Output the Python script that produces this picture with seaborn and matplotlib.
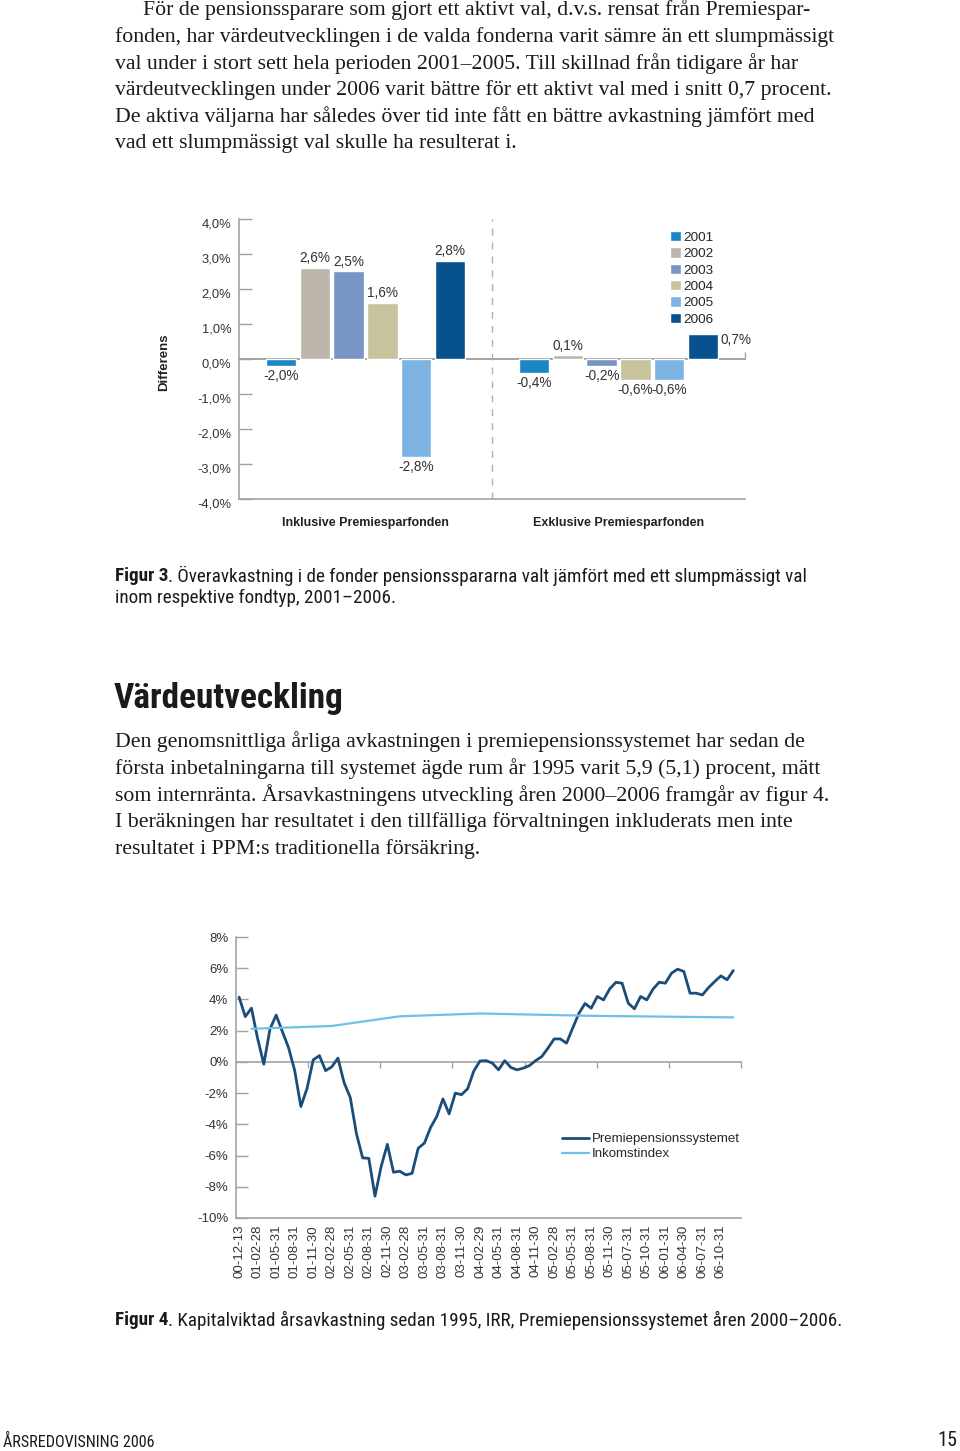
import numpy as np
import pandas as pd
import seaborn as sns
import matplotlib.pyplot as plt
from matplotlib import font_manager as fm
from matplotlib.transforms import ScaledTranslation

W, H = 960, 1451

# figur 3 data
years = ['2001', '2002', '2003', '2004', '2005', '2006']
groups = ['Inklusive Premiesparfonden', 'Exklusive Premiesparfonden']
inkl_values = [-0.2, 2.6, 2.5, 1.6, -2.8, 2.8]
exkl_values = [-0.4, 0.1, -0.2, -0.6, -0.6, 0.7]
inkl_labels = ['-2,0%', '2,6%', '2,5%', '1,6%', '-2,8%', '2,8%']
exkl_labels = ['-0,4%', '0,1%', '-0,2%', '-0,6%', '-0,6%', '0,7%']
bar_colors = ['#1a86c8', '#bdb6ab', '#7895c3', '#c7c39c', '#7db3e2', '#07518f']

# figur 4 data (monthly, 81 points)
date_labels = ['00-12-13', '01-02-28', '01-05-31', '01-08-31', '01-11-30', '02-02-28',
               '02-05-31', '02-08-31', '02-11-30', '03-02-28', '03-05-31', '03-08-31',
               '03-11-30', '04-02-29', '04-05-31', '04-08-31', '04-11-30', '05-02-28',
               '05-05-31', '05-08-31', '05-11-30', '05-07-31', '05-10-31', '06-01-31',
               '06-04-30', '06-07-31', '06-10-31']
pp_values = [4.15, 2.9, 3.44, 1.5, -0.15, 2.1, 3.0, 1.95, 0.92, -0.55,
             -2.86, -1.7, 0.13, 0.4, -0.56, -0.32, 0.24, -1.33, -2.29, -4.6,
             -6.15, -6.18, -8.6, -6.7, -5.28, -7.07, -7.0, -7.24, -7.14, -5.53,
             -5.2, -4.2, -3.5, -2.37, -3.33, -2.0, -2.1, -1.72, -0.58, 0.06,
             0.08, -0.08, -0.51, 0.08, -0.36, -0.51, -0.4, -0.24, 0.08, 0.34,
             0.88, 1.47, 1.47, 1.2, 2.16, 3.1, 3.74, 3.44, 4.19, 3.97,
             4.68, 5.1, 5.04, 3.76, 3.4, 4.19, 3.97, 4.66, 5.1, 5.04,
             5.68, 5.94, 5.79, 4.4, 4.4, 4.29, 4.76, 5.15, 5.51, 5.26, 5.85]
ink_month = [2, 15, 26, 39, 57, 80]
ink_values = [2.12, 2.3, 2.92, 3.1, 2.95, 2.85]
pp_color = '#1b4d7a'
ink_color = '#6cc1e6'

gray = '#a3a3a3'
txt = '#333333'

sns.set_theme(style='white')
plt.rcParams['font.family'] = ['Liberation Sans', 'DejaVu Sans']

ttf = fm.fontManager.ttflist
names = {f.name for f in ttf}
if 'Liberation Sans Narrow' in names:
    cond = dict(family='Liberation Sans Narrow')
elif 'Roboto Condensed' in names:
    cond = dict(family='Roboto Condensed')
elif any(f.name == 'DejaVu Sans' and f.stretch == 'condensed' for f in ttf):
    cond = dict(family='DejaVu Sans', stretch='condensed')
else:
    cond = dict(family='Liberation Sans')
serif = dict(family='Liberation Serif')


def fx(px):
    return px / W


def fy(py):
    return 1 - py / H


fig = plt.figure(figsize=(9.6, 14.51), dpi=100)

# ---- body text ----
body_size = 15.7
para1 = ['fonden, har värdeutvecklingen i de valda fonderna varit sämre än ett slumpmässigt',
         'val under i stort sett hela perioden 2001–2005. Till skillnad från tidigare år har',
         'värdeutvecklingen under 2006 varit bättre för ett aktivt val med i snitt 0,7 procent.',
         'De aktiva väljarna har således över tid inte fått en bättre avkastning jämfört med',
         'vad ett slumpmässigt val skulle ha resulterat i.']
fig.text(fx(143), fy(10), 'För de pensionssparare som gjort ett aktivt val, d.v.s. rensat från Premiespar-',
         fontsize=body_size, color='#1a1a1a', va='center', **serif)
for i, line in enumerate(para1):
    fig.text(fx(115), fy(37 + 26.6 * i), line, fontsize=body_size, color='#1a1a1a',
             va='center', **serif)

fig.text(fx(114), fy(698), 'Värdeutveckling', fontsize=25.4, fontweight='bold', color='#1a1a1a',
         va='center', **cond)
para2 = ['Den genomsnittliga årliga avkastningen i premiepensionssystemet har sedan de',
         'första inbetalningarna till systemet ägde rum år 1995 varit 5,9 (5,1) procent, mätt',
         'som internränta. Årsavkastningens utveckling åren 2000–2006 framgår av figur 4.',
         'I beräkningen har resultatet i den tillfälliga förvaltningen inkluderats men inte',
         'resultatet i PPM:s traditionella försäkring.']
for i, line in enumerate(para2):
    fig.text(fx(115), fy(742 + 26.7 * i), line, fontsize=body_size, color='#1a1a1a',
             va='center', **serif)

renderer = fig.canvas.get_renderer()
cap_size = 13.8


def caption(y, bold, rest):
    t = fig.text(fx(115), fy(y), bold, fontsize=cap_size, fontweight='bold', color='#1a1a1a',
                 va='center', **cond)
    bb = t.get_window_extent(renderer)
    fig.text(bb.x1 / W, fy(y), rest, fontsize=cap_size, color='#1a1a1a', va='center', **cond)


caption(576, 'Figur 3', '. Överavkastning i de fonder pensionsspararna valt jämfört med ett slumpmässigt val')
fig.text(fx(115), fy(598), 'inom respektive fondtyp, 2001–2006.', fontsize=cap_size, color='#1a1a1a',
         va='center', **cond)
caption(1320, 'Figur 4', '. Kapitalviktad årsavkastning sedan 1995, IRR, Premiepensionssystemet åren 2000–2006.')

fig.text(fx(3), fy(1442), 'ÅRSREDOVISNING 2006', fontsize=11.6, color='#1a1a1a', va='center', **cond)
fig.text(fx(957), fy(1441), '15', fontsize=14.5, color='#1a1a1a', va='center', ha='right', **cond)

# ---- figur 3: bar chart ----
ax1 = fig.add_axes([fx(239), fy(499), (745 - 239) / W, (499 - 219) / H])
df = pd.DataFrame({'grupp': [groups[0]] * 6 + [groups[1]] * 6,
                   'år': years * 2,
                   'differens': inkl_values + exkl_values})
sns.barplot(data=df, x='grupp', y='differens', hue='år', palette=bar_colors, saturation=1,
            width=0.8, gap=0.1, ax=ax1)
ax1.set_xlim(-0.5, 1.5)
ax1.set_ylim(-4, 4)
yt = np.arange(-4, 4.5, 1)
ax1.set_yticks(yt)
ax1.set_yticklabels([f'{v:.1f}%'.replace('.', ',') for v in yt])
ax1.tick_params(axis='y', direction='in', length=9.5, width=1, color=gray,
                labelsize=9.3, labelcolor=txt, pad=5.5, left=True)
ax1.tick_params(axis='x', length=0, pad=13, labelsize=9, labelcolor='#222')
for lab in ax1.get_xticklabels():
    lab.set_fontweight('bold')
ax1.set_xlabel('')
ax1.set_ylabel('Differens', fontsize=9.5, fontweight='bold', color='#222')
ax1.yaxis.set_label_coords(-0.136, 0.489)
for s in ['top', 'right']:
    ax1.spines[s].set_visible(False)
for s in ['left', 'bottom']:
    ax1.spines[s].set_color(gray)
    ax1.spines[s].set_linewidth(1.2)
ax1.axvline(0.5, color='#b0b0b0', lw=1, ls=(0, (5, 5)))
zero1 = ax1.secondary_xaxis(0.5)
zero1.set_xticks([1.5])
zero1.set_xticklabels([])
zero1.tick_params(direction='out', length=5, width=1, color=gray)
for s in zero1.spines.values():
    s.set_color(gray)
    s.set_linewidth(1.4)

for i, cont in enumerate(ax1.containers):
    anns = ax1.bar_label(cont, labels=[inkl_labels[i], exkl_labels[i]], padding=2,
                         fontsize=9.8, color=txt)
    if i == 5:
        anns[1].xyann = (13, -4)
        anns[1].set_ha('left')
        anns[1].set_va('center')

handles, labels = ax1.get_legend_handles_labels()
ax1.legend(handles, labels, loc='upper left', bbox_to_anchor=(0.852, 0.957), frameon=False,
           fontsize=9.7, handlelength=0.8, handleheight=0.8, handletextpad=0.2,
           labelspacing=0.26, borderpad=0, borderaxespad=0)

off = ScaledTranslation(0, -3 / 72, fig.dpi_scale_trans)
for lab in ax1.get_yticklabels():
    lab.set_transform(lab.get_transform() + off)

# ---- figur 4: line chart ----
ax2 = fig.add_axes([fx(236), fy(1218), (741 - 236) / W, (1218 - 937) / H])
months = np.arange(len(pp_values))
sns.lineplot(x=months, y=pp_values, color=pp_color, lw=2, ax=ax2, label='Premiepensionssystemet')
sns.lineplot(x=ink_month, y=ink_values, color=ink_color, lw=1.6, ax=ax2, label='Inkomstindex')
ax2.set_xlim(-0.5, 81.25)
ax2.set_ylim(-10, 8)
yt2 = np.arange(-10, 9, 2)
ax2.set_yticks(yt2)
ax2.set_yticklabels([f'{v}%' for v in yt2])
ax2.set_xticks(np.arange(0, len(pp_values), 3))
ax2.set_xticklabels(date_labels, rotation=90)
ax2.tick_params(axis='y', direction='in', length=8.6, width=1, color=gray,
                labelsize=9.5, labelcolor=txt, pad=5.5, left=True)
ax2.tick_params(axis='x', length=0, pad=5, labelsize=9.5, labelcolor=txt)
for s in ['top', 'right']:
    ax2.spines[s].set_visible(False)
for s in ['left', 'bottom']:
    ax2.spines[s].set_color(gray)
    ax2.spines[s].set_linewidth(1.2)
zero2 = ax2.secondary_xaxis(10 / 18)
zero2.set_xticks(np.linspace(-0.5, 81.25, 8)[1:])
zero2.set_xticklabels([])
zero2.tick_params(direction='in', length=4.5, width=1, color=gray)
for s in zero2.spines.values():
    s.set_color(gray)
    s.set_linewidth(1.2)
ax2.legend(loc='upper left', bbox_to_anchor=(0.6455, 0.302), frameon=False, fontsize=9.5,
           handlelength=2.05, handletextpad=0.2, labelspacing=0.2, borderpad=0,
           borderaxespad=0)

fig.savefig('out.png', dpi=100)
